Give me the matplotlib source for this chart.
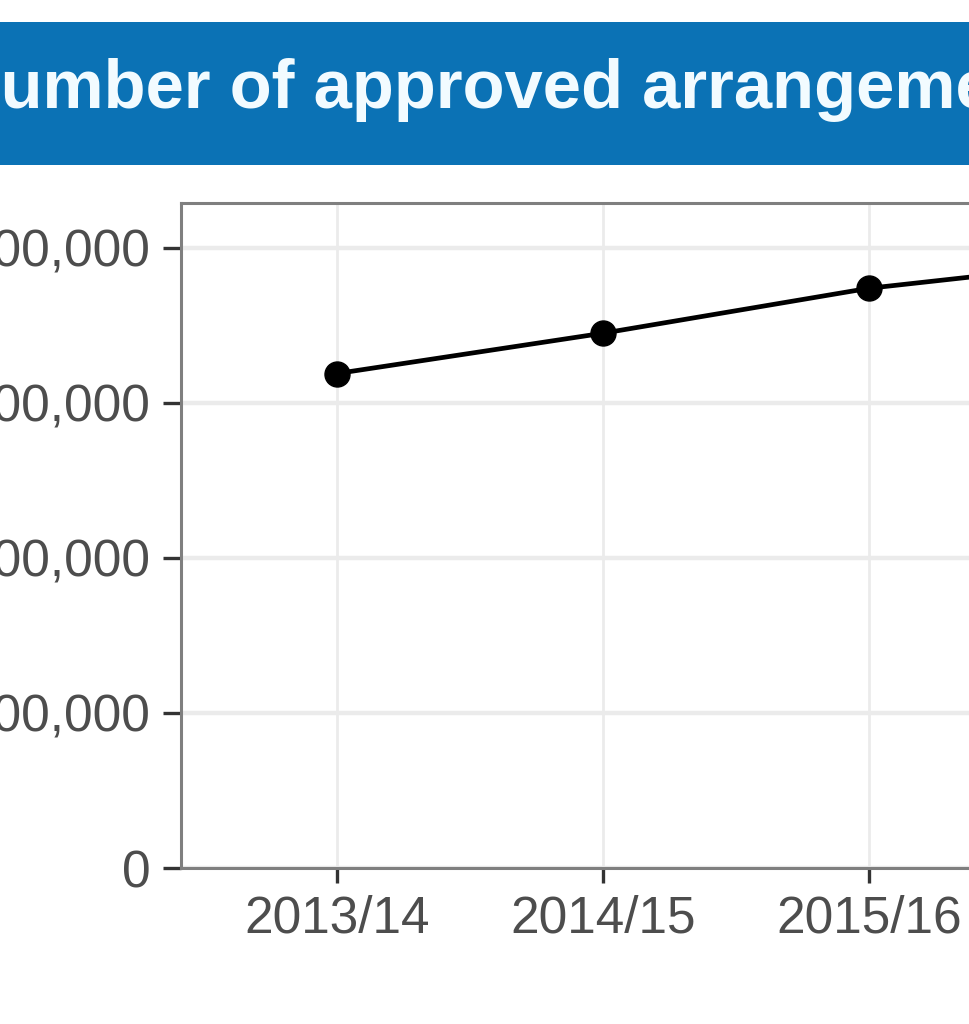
import matplotlib
matplotlib.use("Agg")
import matplotlib.pyplot as plt
from matplotlib.ticker import FuncFormatter

plt.rcParams['font.family'] = ['Liberation Sans', 'DejaVu Sans']

# data
years = ["2013/14", "2014/15", "2015/16", "2016/17"]
arrangements = [319000, 345000, 374000, 393000]
y_ticks = [0, 100000, 200000, 300000, 400000]
title = "Number of approved arrangements"

W, H = 970, 1024
fig = plt.figure(figsize=(W / 100, H / 100), dpi=100)

# title banner (wider than the canvas, as in the crop)
banner = fig.add_axes([-0.2, 1 - 165 / H, 1.6, (165 - 22) / H])
banner.set_facecolor('#0b72b5')
banner.set_xticks([])
banner.set_yticks([])
for s in banner.spines.values():
    s.set_visible(False)

# work out how wide the "N" is so the visible part starts with "umber"
probe = fig.text(0, 0, "N", fontsize=49.5, fontweight='bold')
fig.canvas.draw()
n_w = probe.get_window_extent().width
probe.remove()
fig.text((1 - n_w) / W, 1 - 108 / H, title, fontsize=49.5, fontweight='bold',
         color='#f2fbff', ha='left', va='baseline')

# main panel
x = list(range(len(years)))
left = 181 / W
spacing = 266
pad = (337 - 181) / spacing
ax_w = (len(years) - 1 + 2 * pad) * spacing / W
ax = fig.add_axes([left, 1 - 868 / H, ax_w, (868 - 203) / H])

ax.plot(x, arrangements, color='black', lw=3.4, marker='o', markersize=18, zorder=3)

ax.set_xlim(-pad, len(years) - 1 + pad)
ax.set_ylim(0, 429000)
ax.set_xticks(x)
ax.set_xticklabels(years)
ax.set_yticks(y_ticks)
ax.yaxis.set_major_formatter(FuncFormatter(lambda v, p: f"{int(v):,}"))

ax.grid(axis='y', color='#ebebeb', lw=3.2)
ax.grid(axis='x', color='#ebebeb', lw=2)
ax.set_axisbelow(True)
for s in ax.spines.values():
    s.set_color('#7f7f7f')
    s.set_linewidth(2.2)

ax.tick_params(axis='both', colors='#333333', width=2.4, labelcolor='#4d4d4d',
               labelsize=37)
ax.tick_params(axis='y', length=13, pad=9)
ax.tick_params(axis='x', length=11, pad=8)

fig.savefig("out.png", dpi=100)
